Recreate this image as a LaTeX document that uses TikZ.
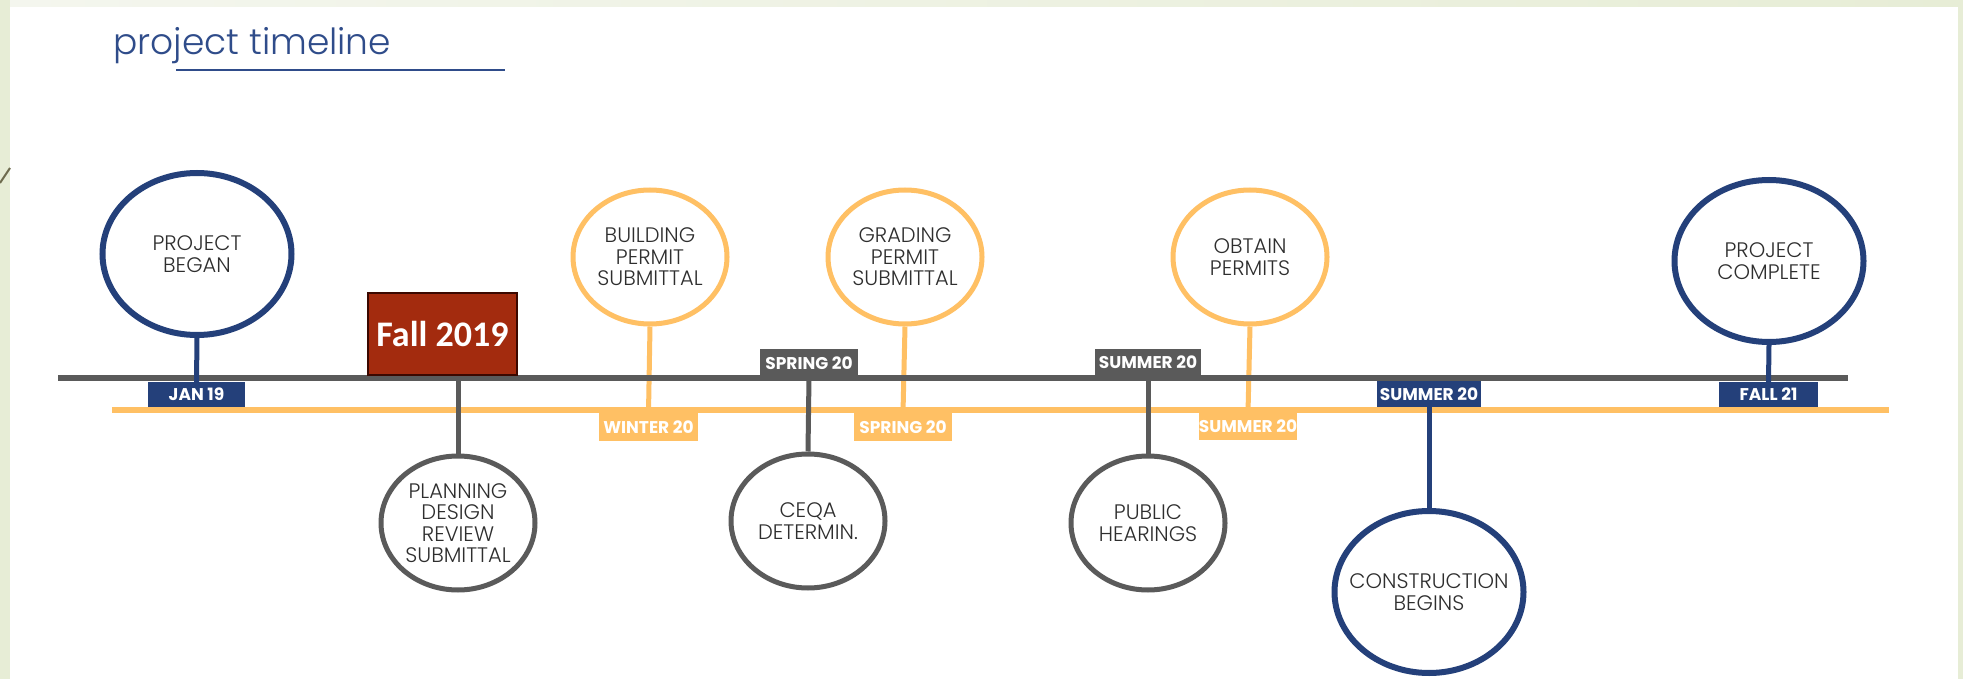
\documentclass[tikz,border=0pt]{standalone}
\usepackage{fontspec}
\setmainfont{Poppins}
\newfontfamily\lightfont{Poppins Light}
\newfontfamily\calfont{Carlito}
\usetikzlibrary{shapes.geometric}
\definecolor{navy}{HTML}{24407A}
\definecolor{tlgray}{HTML}{5A5A5A}
\definecolor{tlorange}{HTML}{FFC064}
\definecolor{boxred}{HTML}{A32B0E}
\definecolor{boxedge}{HTML}{3B0800}
\definecolor{txt}{HTML}{2E2E2E}
\definecolor{ttl}{HTML}{2F4C8A}
\definecolor{bggreen}{HTML}{E7EDD6}
\definecolor{bglight}{HTML}{F4F6EE}
\definecolor{olive}{HTML}{6E6B4E}
\pgfdeclarelayer{bg}
\pgfsetlayers{bg,main}
\tikzset{
  ms/.style={ellipse, draw=#1, fill=white, inner sep=0pt},
  msl/.style={align=center, text=txt, inner sep=0pt, font=\lightfont\fontsize{21}{21.5}\selectfont},
  bigms/.style={ms=#1, line width=6pt, minimum width=189pt, minimum height=162pt},
  smallms/.style={ms=#1, line width=5pt, minimum width=154pt, minimum height=134pt},
  datebox/.style={rectangle, fill=#1, text=white, inner sep=0pt,
    font=\bfseries\fontsize{17}{17}\selectfont},
  stem/.style={draw=#1, line width=5pt},
  mainline/.style={draw=#1, line width=6.5pt},
}
\begin{document}
\begin{tikzpicture}[x=1pt,y=-1pt]
\useasboundingbox (0,0) rectangle (1963,679);
% title
\node[anchor=base west, inner sep=0pt, text=ttl, font=\lightfont\fontsize{36}{36}\selectfont] (title) at (113,55) {project timeline};

% coordinates of the two main lines
\coordinate (gl) at (58,378);
\coordinate (gr) at (1848,378);
\coordinate (ol) at (112,410);
\coordinate (or) at (1889,410);

% milestone circles
\node[bigms=navy, label={[msl]center:PROJECT\\BEGAN}] (began) at (197,254) {};
\node[smallms=tlorange, label={[msl]center:BUILDING\\PERMIT\\SUBMITTAL}] (building) at (650,257) {};
\node[smallms=tlorange, label={[msl]center:GRADING\\PERMIT\\SUBMITTAL}] (grading) at (905,257) {};
\node[smallms=tlorange, label={[msl]center:OBTAIN\\PERMITS}] (obtain) at (1250,257) {};
\node[bigms=navy, label={[msl]center:PROJECT\\COMPLETE}] (complete) at (1769,261) {};
\node[smallms=tlgray, label={[msl]center:PLANNING\\DESIGN\\REVIEW\\SUBMITTAL}] (planning) at (458,523) {};
\node[smallms=tlgray, label={[msl]center:CEQA\\DETERMIN.}] (ceqa) at (808,521) {};
\node[smallms=tlgray, label={[msl]center:PUBLIC\\HEARINGS}] (hearings) at (1148,523) {};
\node[bigms=navy, label={[msl]center:CONSTRUCTION\\BEGINS}] (construction) at (1429,592) {};

% date boxes
\node[datebox=navy, minimum width=97pt, minimum height=25pt] (jan19) at (196.5,394.5) {JAN 19};
\node[datebox=tlgray, minimum width=98pt, minimum height=28pt] (spring20g) at (809,363) {SPRING 20};
\node[datebox=tlorange, minimum width=99pt, minimum height=28pt] (winter20) at (648.5,427) {WINTER 20};
\node[datebox=tlorange, minimum width=98pt, minimum height=28pt] (spring20o) at (903,427) {SPRING 20};
\node[datebox=tlgray, minimum width=106pt, minimum height=27pt] (summer20g) at (1148,362.5) {SUMMER 20};
\node[datebox=tlorange, minimum width=98pt, minimum height=27pt] (summer20o) at (1248,426.5) {SUMMER 20};
\node[datebox=navy, minimum width=104pt, minimum height=26pt] (summer20n) at (1429,394) {SUMMER 20};
\node[datebox=navy, minimum width=99pt, minimum height=25pt] (fall21) at (1768.5,394.5) {FALL 21};

% fall 2019 marker
\node[rectangle, fill=boxred, draw=boxedge, line width=2pt, minimum width=149pt, minimum height=82pt,
  text=white, font=\calfont\bfseries\fontsize{36}{36}\selectfont] (fall19) at (442.5,334) {Fall 2019};

\begin{pgfonlayer}{bg}
  % background frame
  \fill[bggreen] (0,0) rectangle (1963,679);
  \shade[left color=bglight, right color=bggreen] (10,0) rectangle (1963,7);
  \fill[white] (10,7) rectangle (1958,679);
  \draw[olive, line width=2pt] (0,183) -- (10,168);
  \draw[ttl, line width=2.5pt] (176,70) -- (505,70);
  % orange line and stems
  \draw[mainline=tlorange] (ol) -- (or);
  \draw[stem=tlorange] (building.south) -- (winter20.north);
  \draw[stem=tlorange] (grading.south) -- (spring20o.north);
  \draw[stem=tlorange] (obtain.south) -- (summer20o.north);
  % gray line and stems
  \draw[mainline=tlgray] (gl) -- (gr);
  \draw[stem=tlgray] (planning.north |- fall19.south) -- (planning.north);
  \draw[stem=tlgray] (spring20g.south) -- (ceqa.north);
  \draw[stem=tlgray] (summer20g.south) -- (hearings.north);
  % navy stems
  \draw[stem=navy] (began.south) -- (jan19.north);
  \draw[stem=navy] (summer20n.south) -- (construction.north);
  \draw[stem=navy] (complete.south) -- (fall21.north);
\end{pgfonlayer}
\end{tikzpicture}
\end{document}
